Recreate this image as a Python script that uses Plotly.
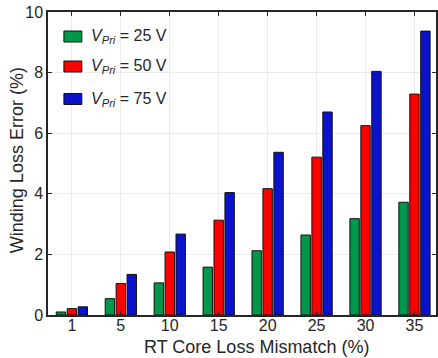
import plotly.graph_objects as go

# Core-loss mismatch levels (%) and the resulting winding-loss error (%)
mismatch = ["1", "5", "10", "15", "20", "25", "30", "35"]
err_25v = [0.10, 0.54, 1.06, 1.58, 2.12, 2.64, 3.18, 3.72]
err_50v = [0.21, 1.04, 2.08, 3.13, 4.17, 5.21, 6.25, 7.29]
err_75v = [0.27, 1.34, 2.67, 4.04, 5.37, 6.70, 8.04, 9.37]
series_names = ["<i>V</i><sub><i>Pri</i></sub> = 25 V",
                "<i>V</i><sub><i>Pri</i></sub> = 50 V",
                "<i>V</i><sub><i>Pri</i></sub> = 75 V"]
y_ticks = [0, 2, 4, 6, 8, 10]

colors = ["#00974A", "#FF0000", "#0B12CC"]
ink = "#262626"
font = "Liberation Sans, Arial, sans-serif"

W, H = 438, 358
L, R, T, B = 48, 0, 12, 43

fig = go.Figure()
for name, vals, col in zip(series_names, [err_25v, err_50v, err_75v], colors):
    fig.add_trace(go.Bar(
        x=list(range(len(mismatch))), y=vals, name=name,
        marker=dict(color=col, line=dict(color="#111111", width=1)),
        showlegend=False,
    ))

# Hand-drawn legend: wide colour swatches with text labels
leg_x0, leg_x1 = 64, 82
leg_rows = [36.5, 66.5, 99.0]
pw, ph = W - L - R, H - T - B
for name, col, yc in zip(series_names, colors, leg_rows):
    fig.add_shape(type="rect", xref="paper", yref="paper",
                  x0=(leg_x0 - L) / pw, x1=(leg_x1 - L) / pw,
                  y0=1 - (yc + 5.5 - T) / ph, y1=1 - (yc - 5.5 - T) / ph,
                  fillcolor=col, line=dict(color="#111111", width=1))
    fig.add_annotation(xref="paper", yref="paper",
                       x=(89 - L) / pw, y=1 - (yc - T) / ph,
                       xanchor="left", yanchor="middle", showarrow=False,
                       text=name, font=dict(family=font, size=16, color=ink))

# Axis titles
fig.add_annotation(xref="paper", yref="paper", x=(258 - L) / pw, y=1 - (347 - T) / ph,
                   xanchor="center", yanchor="middle", showarrow=False,
                   text="RT Core Loss Mismatch (%)",
                   font=dict(family=font, size=18, color=ink))
fig.add_annotation(xref="paper", yref="paper", x=(17 - L) / pw, y=1 - (160 - T) / ph,
                   xanchor="center", yanchor="middle", showarrow=False, textangle=-90,
                   text="Winding Loss Error (%)",
                   font=dict(family=font, size=18, color=ink))

fig.update_layout(
    width=W, height=H,
    margin=dict(l=L, r=R, t=T, b=B),
    paper_bgcolor="white", plot_bgcolor="white",
    barmode="group", bargap=0.33, bargroupgap=0.14,
    font=dict(family=font, size=16, color=ink),
)
fig.update_xaxes(
    range=[-0.488, 7.44],
    tickmode="array", tickvals=list(range(len(mismatch))), ticktext=mismatch,
    showgrid=True, gridcolor="#ebebeb", gridwidth=1,
    showline=True, linecolor=ink, linewidth=1.5, mirror="ticks",
    ticks="inside", ticklen=4, tickcolor=ink,
    tickfont=dict(family=font, size=16, color=ink),
    ticklabelstandoff=-5,
    zeroline=False,
)
fig.update_yaxes(
    range=[0, 10],
    tickmode="array", tickvals=y_ticks,
    showgrid=True, gridcolor="#ebebeb", gridwidth=1,
    showline=True, linecolor=ink, linewidth=1.5, mirror="ticks",
    ticks="inside", ticklen=4, tickcolor=ink,
    tickfont=dict(family=font, size=16, color=ink),
    ticklabelstandoff=0,
    zeroline=False,
)

fig.write_html("out.html")
